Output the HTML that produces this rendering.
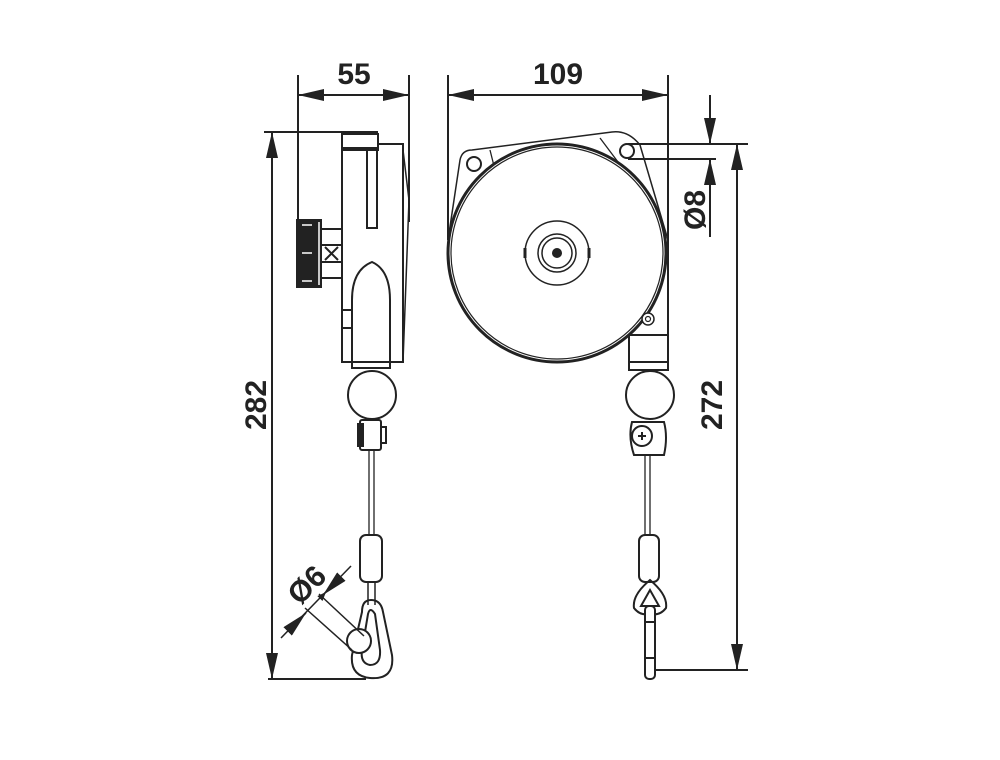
<!DOCTYPE html>
<html><head><style>body{margin:0;background:#fff}svg{display:block}</style></head><body>
<svg width="1000" height="760" viewBox="0 0 1000 760" xmlns="http://www.w3.org/2000/svg" font-family="Liberation Sans, sans-serif">
<defs>
<marker id="a" viewBox="0 0 10 10" refX="10" refY="5" markerWidth="9" markerHeight="9" markerUnits="userSpaceOnUse" orient="auto-start-reverse"><path d="M0 1L10 5L0 9z" fill="#222"/></marker>
<marker id="b" viewBox="0 0 10 10" refX="10" refY="5" markerWidth="26" markerHeight="12" markerUnits="userSpaceOnUse" orient="auto-start-reverse" preserveAspectRatio="none"><path d="M0 0L10 5L0 10z" fill="#222"/></marker>
</defs>
<g stroke="#222" stroke-width="2" fill="none">
<!-- dimension 55 -->
<line x1="298" y1="75" x2="298" y2="222"/>
<line x1="409" y1="75" x2="409" y2="222"/>
<line x1="298" y1="95" x2="409" y2="95" marker-start="url(#b)" marker-end="url(#b)"/>
<!-- dimension 109 -->
<line x1="448" y1="75" x2="448" y2="240"/>
<line x1="668" y1="75" x2="668" y2="335"/>
<line x1="448" y1="95" x2="668" y2="95" marker-start="url(#b)" marker-end="url(#b)"/>
<!-- 282 -->
<line x1="264" y1="132" x2="378" y2="132"/>
<line x1="272" y1="132" x2="272" y2="679" marker-start="url(#b)" marker-end="url(#b)"/>
<line x1="268" y1="679" x2="366" y2="679"/>
<!-- 272 / Ø8 -->
<line x1="628" y1="144" x2="748" y2="144"/>
<line x1="628" y1="159" x2="716" y2="159"/>
<line x1="737" y1="144" x2="737" y2="670" marker-start="url(#b)" marker-end="url(#b)"/>
<line x1="655" y1="670" x2="748" y2="670"/>
<line x1="710" y1="95" x2="710" y2="144" marker-end="url(#b)"/>
<line x1="710" y1="237" x2="710" y2="159" marker-end="url(#b)"/>

<!-- LEFT VIEW body -->
<rect x="342" y="134" width="36" height="16" fill="#fff"/>
<path d="M342 134V362H403V144H378"/>
<path d="M378 134V148H342"/>
<path d="M403 150 L409 200 L403 362" stroke-width="1.5"/>
<rect x="367" y="148" width="10" height="80"/>
<rect x="297" y="220" width="24" height="67" fill="#222"/>
<line x1="319" y1="222" x2="319" y2="285" stroke="#fff" stroke-width="1.5"/>
<line x1="302" y1="225" x2="312" y2="225" stroke="#fff" stroke-width="1.5"/>
<line x1="302" y1="253" x2="312" y2="253" stroke="#fff" stroke-width="1.5"/>
<line x1="302" y1="281" x2="312" y2="281" stroke="#fff" stroke-width="1.5"/>
<rect x="321" y="229" width="21" height="49"/>
<path d="M321 245H342M321 262H342M325 247L338 260M338 247L325 260"/>
<path d="M352 368V300Q352 270 372 262Q390 270 390 300V368z"/>
<line x1="352" y1="362" x2="390" y2="362"/>
<rect x="342" y="310" width="10" height="18"/>
<circle cx="372" cy="395" r="24"/>
<rect x="360" y="420" width="21" height="30" rx="2"/>
<rect x="358" y="424" width="5" height="22" fill="#222"/>
<rect x="381" y="427" width="5" height="16"/>
<path d="M369 450V535M374 450V535" stroke-width="1.3"/>
<rect x="360" y="535" width="22" height="47" rx="6"/>
<path d="M368 582V605M375 582V605" stroke-width="1.5"/>
<path d="M362 612Q362 600 371 600Q381 600 383 612L392 655Q395 680 370 678Q350 676 352 655z"/>
<path d="M368 614Q370 606 375 614L380 650Q381 665 370 665Q360 663 362 650z"/>
<circle cx="359" cy="641" r="12" fill="#fff"/>
<line x1="319" y1="594" x2="364" y2="636" stroke-width="1.5"/>
<line x1="305" y1="608" x2="352" y2="650" stroke-width="1.5"/>
<line x1="281" y1="638" x2="351" y2="566" stroke-width="1.5"/>
<line x1="312" y1="607" x2="326" y2="592" marker-end="url(#a)" stroke-width="0"/>
<path d="M334 584 L323 595" stroke-width="1.5" marker-end="url(#b)"/>
<path d="M292 627 L306 613" stroke-width="1.5" marker-end="url(#b)"/>

<!-- RIGHT VIEW -->
<path d="M448 240 L460 160 Q462 150 472 150 L612 132 Q628 130 640 145 L668 240" stroke-width="1.5"/>
<circle cx="474" cy="164" r="7"/>
<circle cx="627" cy="151" r="7"/>
<path d="M490 150 L495 170 M600 138 L630 178" stroke-width="1.3"/>
<circle cx="557" cy="253" r="109" fill="#fff" stroke-width="3"/>
<circle cx="557" cy="253" r="106" stroke-width="1.2"/>
<circle cx="557" cy="253" r="32" stroke-width="1.5"/>
<circle cx="557" cy="253" r="19" stroke-width="1.5"/>
<circle cx="557" cy="253" r="15" stroke-width="1.5"/>
<circle cx="557" cy="253" r="4" fill="#222"/>
<path d="M525 248v10M589 248v10" stroke-width="3"/>
<rect x="629" y="335" width="39" height="35" fill="#fff"/>
<line x1="629" y1="362" x2="668" y2="362"/>
<circle cx="648" cy="319" r="6" fill="#fff" stroke-width="1.5"/>
<circle cx="648" cy="319" r="2.5" stroke-width="1.2"/>
<circle cx="650" cy="395" r="24"/>
<path d="M632 422H664Q668 437 664 455H634Q628 437 632 422z"/>
<circle cx="642" cy="436" r="10"/>
<path d="M638 436H646M642 432V440" stroke-width="2"/>
<path d="M645 455V535M650 455V535" stroke-width="1.3"/>
<rect x="639" y="535" width="20" height="47" rx="6"/>
<path d="M650 580 Q632 595 634 608 Q640 616 650 614 Q660 616 666 608 Q668 595 650 580z"/>
<path d="M650 590 L641 606 L659 606z"/>
<rect x="645" y="606" width="10" height="73" rx="4" fill="#fff"/>
<line x1="645" y1="622" x2="655" y2="622"/>
<line x1="645" y1="658" x2="655" y2="658"/>
</g>
<g fill="#222" font-weight="bold" font-size="30" text-anchor="middle">
<text x="354" y="84">55</text>
<text x="558" y="84">109</text>
<text transform="translate(266,405) rotate(-90)">282</text>
<text transform="translate(722,405) rotate(-90)">272</text>
<text transform="translate(705,210) rotate(-90)">Ø8</text>
<text transform="translate(314,592) rotate(-45)">Ø6</text>
</g>
</svg>
</body></html>
